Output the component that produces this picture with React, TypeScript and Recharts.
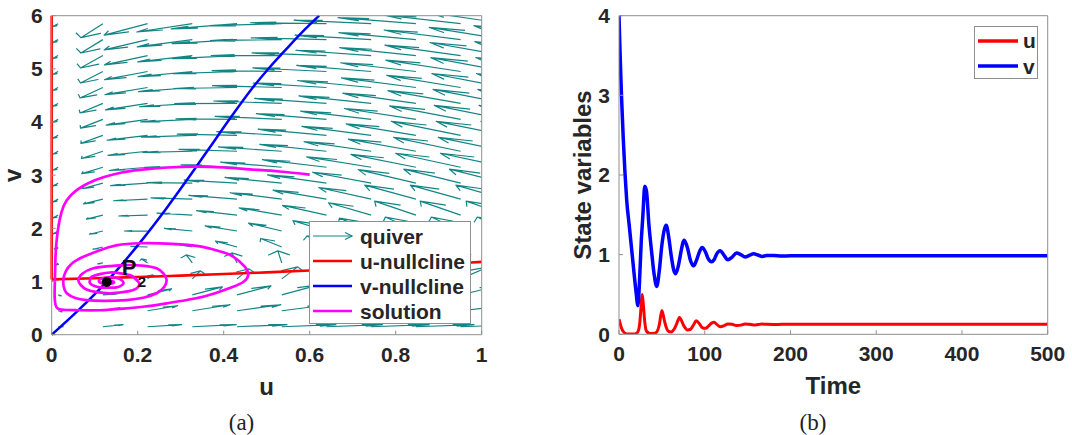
import React from 'react';
import { ComposedChart, LineChart, Line, XAxis, YAxis, Scatter, Legend } from 'recharts';

const FONT = '"Liberation Sans", Arial, Helvetica, sans-serif';
const SERIF = '"Liberation Serif", "DejaVu Serif", serif';
const AXIS_GRAY = '#8f8f8f';
const TEXT = '#262626';
const TEAL = '#148585';
const RED = '#ff0000';
const BLUE = '#0000ff';
const MAGENTA = '#ff00ff';

// ---------- panel (a): phase plane ----------
const uTicks = [0, 0.2, 0.4, 0.6, 0.8, 1];
const vTicks = [0, 1, 2, 3, 4, 5, 6];

// quiver grid (arrow tails); the grid runs a little past u = 1 and is clipped by the axes
const quiverU = [0.015, 0.119, 0.223, 0.327, 0.431, 0.535, 0.639, 0.743, 0.847, 0.951, 1.055, 1.159];
const quiverV = [0.15, 0.45, 0.75, 1.05, 1.35, 1.65, 1.95, 2.25, 2.55, 2.85, 3.15, 3.45, 3.75, 4.05, 4.35, 4.65, 4.95, 5.25, 5.55, 5.85];

// arrow components (data units), one row per v value
const quiverDU = [
  [0.012, 0.047, 0.079, 0.102, 0.116, 0.126, 0.130, 0.135, 0.135, 0.135, 0.135, 0.135],
  [0.009, 0.040, 0.070, 0.088, 0.102, 0.109, 0.114, 0.116, 0.119, 0.121, 0.121, 0.121],
  [0.007, 0.033, 0.056, 0.070, 0.079, 0.086, 0.091, 0.093, 0.095, 0.098, 0.098, 0.098],
  [0, 0.005, 0.012, 0.019, 0.028, 0.037, 0.047, 0.053, 0.060, 0.065, 0.070, 0.074],
  [-0.005, -0.012, -0.014, -0.014, -0.012, -0.009, -0.007, -0.005, -0.002, 0, 0.002, 0.005],
  [-0.008, -0.023, -0.039, -0.046, -0.050, -0.049, -0.045, -0.038, -0.033, -0.028, -0.025, -0.023],
  [-0.013, -0.031, -0.054, -0.065, -0.074, -0.077, -0.078, -0.074, -0.071, -0.068, -0.065, -0.063],
  [-0.013, -0.038, -0.067, -0.082, -0.094, -0.099, -0.102, -0.099, -0.096, -0.094, -0.091, -0.090],
  [-0.013, -0.045, -0.079, -0.096, -0.112, -0.120, -0.124, -0.122, -0.119, -0.117, -0.115, -0.112],
  [-0.013, -0.049, -0.086, -0.106, -0.123, -0.132, -0.137, -0.136, -0.134, -0.132, -0.130, -0.128],
  [-0.013, -0.049, -0.089, -0.111, -0.130, -0.142, -0.149, -0.150, -0.151, -0.151, -0.151, -0.151],
  [-0.013, -0.050, -0.092, -0.115, -0.135, -0.147, -0.155, -0.156, -0.157, -0.156, -0.156, -0.156],
  [-0.013, -0.051, -0.094, -0.118, -0.139, -0.151, -0.159, -0.161, -0.162, -0.161, -0.161, -0.161],
  [-0.013, -0.052, -0.096, -0.120, -0.142, -0.155, -0.163, -0.164, -0.166, -0.165, -0.165, -0.165],
  [-0.013, -0.053, -0.098, -0.123, -0.145, -0.158, -0.167, -0.168, -0.170, -0.169, -0.168, -0.168],
  [-0.013, -0.053, -0.099, -0.125, -0.147, -0.161, -0.170, -0.171, -0.173, -0.172, -0.171, -0.171],
  [-0.013, -0.052, -0.100, -0.126, -0.149, -0.162, -0.171, -0.173, -0.175, -0.174, -0.173, -0.173],
  [-0.013, -0.052, -0.100, -0.127, -0.150, -0.164, -0.173, -0.175, -0.177, -0.176, -0.175, -0.175],
  [-0.013, -0.051, -0.101, -0.128, -0.151, -0.166, -0.175, -0.177, -0.179, -0.178, -0.177, -0.177],
  [-0.013, -0.051, -0.101, -0.129, -0.153, -0.167, -0.177, -0.179, -0.181, -0.180, -0.180, -0.179],
];
const quiverDV = [
  [0, 0.038, 0.038, 0.038, 0.038, 0.038, 0.038, 0.038, 0.038, 0.038, 0.038, 0.038],
  [-0.019, 0.056, 0.094, 0.113, 0.113, 0.113, 0.113, 0.113, 0.113, 0.113, 0.113, 0.113],
  [-0.019, 0.019, 0.113, 0.150, 0.169, 0.188, 0.188, 0.188, 0.188, 0.188, 0.188, 0.188],
  [-0.019, 0, 0.075, 0.150, 0.188, 0.226, 0.226, 0.226, 0.226, 0.226, 0.226, 0.226],
  [-0.038, -0.019, 0.075, 0.150, 0.188, 0.226, 0.226, 0.226, 0.226, 0.226, 0.226, 0.226],
  [-0.040, -0.043, 0.013, 0.062, 0.111, 0.160, 0.209, 0.258, 0.263, 0.258, 0.231, 0.209],
  [-0.056, -0.060, 0, 0.049, 0.098, 0.147, 0.196, 0.243, 0.263, 0.263, 0.263, 0.263],
  [-0.056, -0.075, -0.017, 0.036, 0.085, 0.134, 0.182, 0.231, 0.263, 0.263, 0.263, 0.263],
  [-0.056, -0.090, -0.031, 0.023, 0.071, 0.120, 0.169, 0.218, 0.263, 0.263, 0.263, 0.263],
  [-0.056, -0.105, -0.047, 0.010, 0.059, 0.108, 0.157, 0.206, 0.255, 0.263, 0.263, 0.263],
  [-0.056, -0.120, -0.062, -0.003, 0.046, 0.095, 0.144, 0.193, 0.242, 0.263, 0.263, 0.263],
  [-0.056, -0.135, -0.077, -0.019, 0.034, 0.083, 0.131, 0.180, 0.229, 0.263, 0.263, 0.263],
  [-0.056, -0.150, -0.092, -0.034, 0.021, 0.070, 0.118, 0.168, 0.216, 0.263, 0.263, 0.263],
  [-0.056, -0.165, -0.107, -0.048, 0.009, 0.058, 0.107, 0.156, 0.205, 0.254, 0.263, 0.263],
  [-0.056, -0.180, -0.121, -0.063, -0.004, 0.046, 0.094, 0.143, 0.192, 0.241, 0.263, 0.263],
  [-0.056, -0.197, -0.136, -0.078, -0.019, 0.033, 0.082, 0.131, 0.180, 0.229, 0.263, 0.263],
  [-0.056, -0.216, -0.154, -0.096, -0.038, 0.018, 0.067, 0.116, 0.165, 0.213, 0.262, 0.263],
  [-0.056, -0.233, -0.175, -0.117, -0.056, 0.001, 0.051, 0.100, 0.149, 0.197, 0.246, 0.263],
  [-0.056, -0.252, -0.194, -0.135, -0.077, -0.018, 0.034, 0.083, 0.132, 0.181, 0.229, 0.263],
  [-0.056, -0.263, -0.214, -0.156, -0.098, -0.038, 0.017, 0.066, 0.115, 0.164, 0.213, 0.261],
];

// u-nullcline
const uNullU = [0, 0.1, 0.2, 0.3, 0.4, 0.5, 0.6, 0.7, 0.8, 0.9, 1.0];
const uNullV = [1.04, 1.061, 1.085, 1.112, 1.141, 1.173, 1.207, 1.244, 1.283, 1.325, 1.37];
const uNullAxisV = [1.04, 6];

// v-nullcline
const vNullU = [0, 0.058, 0.128, 0.209, 0.267, 0.326, 0.37, 0.415, 0.461, 0.508, 0.551, 0.59, 0.622];
const vNullV = [0, 0.43, 1.0, 1.77, 2.38, 3.04, 3.55, 4.07, 4.58, 5.04, 5.42, 5.75, 6.0];

// solution trajectory
const solU = [0.6, 0.53, 0.461, 0.4, 0.337, 0.27, 0.205, 0.163, 0.12, 0.085, 0.058, 0.035, 0.023, 0.016, 0.012, 0.009, 0.008, 0.007, 0.007, 0.009, 0.015, 0.035, 0.062, 0.112, 0.167, 0.217, 0.267, 0.333, 0.38, 0.422, 0.447, 0.457, 0.45, 0.422, 0.39, 0.345, 0.28, 0.205, 0.15, 0.112, 0.075, 0.047, 0.032, 0.027, 0.028, 0.035, 0.055, 0.081, 0.12, 0.174, 0.215, 0.244, 0.262, 0.267, 0.26, 0.244, 0.21, 0.174, 0.135, 0.097, 0.072, 0.062, 0.068, 0.081, 0.105, 0.136, 0.165, 0.19, 0.203, 0.201, 0.192, 0.182, 0.16, 0.136, 0.112, 0.093, 0.089, 0.089, 0.098, 0.112, 0.132, 0.151, 0.163, 0.167, 0.162, 0.155, 0.142, 0.128, 0.115, 0.11, 0.112, 0.12, 0.132, 0.142, 0.145, 0.14, 0.13, 0.12, 0.122, 0.128, 0.133, 0.128];
const solV = [3.01, 3.07, 3.11, 3.145, 3.16, 3.145, 3.1, 3.05, 2.96, 2.85, 2.72, 2.53, 2.31, 2.05, 1.81, 1.5, 1.18, 0.9, 0.68, 0.56, 0.49, 0.465, 0.46, 0.46, 0.49, 0.53, 0.59, 0.68, 0.78, 0.9, 1.0, 1.12, 1.27, 1.47, 1.57, 1.66, 1.71, 1.72, 1.68, 1.59, 1.47, 1.34, 1.18, 1.03, 0.9, 0.78, 0.69, 0.65, 0.635, 0.65, 0.7, 0.78, 0.9, 1.04, 1.15, 1.25, 1.3, 1.31, 1.29, 1.25, 1.15, 1.03, 0.93, 0.85, 0.8, 0.78, 0.8, 0.84, 0.92, 1.0, 1.07, 1.12, 1.155, 1.17, 1.14, 1.09, 1.03, 0.97, 0.92, 0.89, 0.885, 0.89, 0.93, 0.98, 1.03, 1.06, 1.08, 1.08, 1.05, 1.02, 0.985, 0.96, 0.955, 0.97, 0.99, 1.01, 1.02, 1.005, 0.985, 0.98, 0.99, 0.995];

// equilibrium P2
const p2U = [0.128];
const p2V = [0.99];

// ---------- panel (b): time series ----------
const timeTicks = [0, 100, 200, 300, 400, 500];
const stateTicks = [0, 1, 2, 3, 4];
const timeT = [0, 1, 2, 3, 5, 7, 9, 12, 15, 18, 20, 22, 24, 26, 27, 28, 30, 32, 35, 38, 41, 44, 47, 50, 53, 55, 58, 61, 64, 66, 69, 70.5, 72, 76, 80, 83, 87, 90, 94, 97, 101, 104, 108, 111, 114, 118, 122, 127, 132, 137, 142, 147, 152, 157, 162, 167, 172, 180, 190, 200, 250, 300, 350, 400, 450, 500];
const timeV = [4.0, 3.62, 3.28, 2.97, 2.45, 2.02, 1.68, 1.36, 1.04, 0.72, 0.52, 0.36, 0.68, 1.18, 1.35, 1.52, 1.86, 1.8, 1.36, 1.04, 0.75, 0.6, 0.8, 1.12, 1.32, 1.37, 1.22, 0.98, 0.8, 0.76, 0.85, 0.93, 1.02, 1.18, 1.08, 0.94, 0.86, 0.92, 1.04, 1.09, 1.03, 0.95, 0.91, 0.94, 1.01, 1.05, 1.0, 0.935, 0.97, 1.02, 1.0, 0.97, 0.99, 1.01, 0.995, 0.978, 0.988, 0.99, 0.983, 0.985, 0.985, 0.985, 0.985, 0.985, 0.985, 0.985];
const timeU = [0.19, 0.15, 0.11, 0.075, 0.035, 0.012, 0.005, 0.003, 0.003, 0.005, 0.01, 0.03, 0.12, 0.38, 0.5, 0.42, 0.16, 0.04, 0.015, 0.01, 0.012, 0.03, 0.12, 0.3, 0.17, 0.09, 0.035, 0.03, 0.06, 0.1, 0.18, 0.21, 0.19, 0.1, 0.055, 0.06, 0.12, 0.17, 0.13, 0.085, 0.075, 0.1, 0.14, 0.15, 0.125, 0.095, 0.105, 0.13, 0.125, 0.11, 0.115, 0.13, 0.125, 0.118, 0.122, 0.128, 0.125, 0.123, 0.125, 0.125, 0.125, 0.125, 0.125, 0.125, 0.125, 0.125];

const leftLegendNames = ['quiver', 'u-nullcline', 'v-nullcline', 'solution'];
const leftLegendColors = [TEAL, RED, BLUE, MAGENTA];
const rightLegendNames = ['u', 'v'];
const rightLegendColors = [RED, BLUE];

// ---------- derived tables for the library ----------
type Pt = { u: number; v: number | null };
const HEAD_A = 0.33;
const HEAD_B = 0.33;
const quiverData: Pt[] = [];
quiverV.forEach((v0, j) => {
  quiverU.forEach((u0, k) => {
    const du = quiverDU[j][k];
    const dv = quiverDV[j][k];
    const tu = u0 + du;
    const tv = v0 + dv;
    quiverData.push(
      { u: u0, v: v0 },
      { u: tu, v: tv },
      { u: tu - HEAD_A * (du + HEAD_B * dv), v: tv - HEAD_A * (dv - HEAD_B * du) },
      { u: tu, v: tv },
      { u: tu - HEAD_A * (du - HEAD_B * dv), v: tv - HEAD_A * (dv + HEAD_B * du) },
      { u: tu, v: null },
    );
  });
});
const uNullData = uNullU.map((u, i) => ({ u, v: uNullV[i] }));
const uNullAxisData = uNullAxisV.map((v) => ({ u: 0, v }));
const vNullData = vNullU.map((u, i) => ({ u, v: vNullV[i] }));
const solData = solU.map((u, i) => ({ u, v: solV[i] }));
const p2Data = p2U.map((u, i) => ({ u, v: p2V[i] }));
const timeData = timeT.map((t, i) => ({ t, u: timeU[i], v: timeV[i] }));

const tickStyle = { fill: TEXT, fontSize: 21, fontWeight: 700, fontFamily: FONT };
const labelStyle = { fill: TEXT, fontSize: 24, fontWeight: 700, fontFamily: FONT };

const P2Shape = (props: any) => {
  const { cx, cy } = props;
  return (
    <g>
      <circle cx={cx} cy={cy} r={5} fill="#000" />
      <text x={cx + 15} y={cy - 7} fontFamily={FONT} fontWeight={700} fontSize={22} fill="#111">P</text>
      <text x={cx + 31} y={cy + 5} fontFamily={FONT} fontWeight={700} fontSize={15} fill="#111">2</text>
    </g>
  );
};

const LeftLegend = () => (
  <div style={{ position: 'relative', width: 160, height: 101, border: `1px solid ${AXIS_GRAY}`, background: '#fff' }}>
    {leftLegendNames.map((name, i) => (
      <div key={name} style={{ position: 'absolute', left: 0, top: 1.5 + i * 25, height: 25, width: 160, display: 'flex', alignItems: 'center' }}>
        <svg width={44} height={12} style={{ marginLeft: 2, flex: 'none' }}>
          {i === 0 ? (
            <g stroke={leftLegendColors[i]} strokeWidth={1.2} fill="none">
              <line x1={1} y1={6} x2={40} y2={6} />
              <polyline points="33,2.5 40,6 33,9.5" />
            </g>
          ) : (
            <line x1={1} y1={6} x2={40} y2={6} stroke={leftLegendColors[i]} strokeWidth={2.6} />
          )}
        </svg>
        <span style={{ marginLeft: 4, fontFamily: FONT, fontWeight: 700, fontSize: 21, color: TEXT, lineHeight: '25px', whiteSpace: 'nowrap' }}>{name}</span>
      </div>
    ))}
  </div>
);

const RightLegend = () => (
  <div style={{ position: 'relative', width: 62, height: 51, border: `1px solid ${AXIS_GRAY}`, background: '#fff' }}>
    {rightLegendNames.map((name, i) => (
      <div key={name} style={{ position: 'absolute', left: 0, top: 1 + i * 25.5, height: 25, width: 62, display: 'flex', alignItems: 'center' }}>
        <svg width={44} height={12} style={{ marginLeft: 2, flex: 'none' }}>
          <line x1={1} y1={6} x2={41} y2={6} stroke={rightLegendColors[i]} strokeWidth={3.5} />
        </svg>
        <span style={{ marginLeft: 2, fontFamily: FONT, fontWeight: 700, fontSize: 21, color: TEXT, lineHeight: '25px' }}>{name}</span>
      </div>
    ))}
  </div>
);

function PhasePlane() {
  return (
    <ComposedChart width={536} height={435} margin={{ top: 10.7, right: 49.3, bottom: 40.3, left: 11.7 }}>
      <XAxis xAxisId="q" type="number" dataKey="u" domain={[0, 1]} allowDataOverflow ticks={uTicks} interval={0}
        tickSize={-4} tickMargin={16} height={60} stroke={AXIS_GRAY} tick={tickStyle}
        label={{ value: 'u', position: 'insideBottom', offset: 0, style: labelStyle }} />
      <XAxis xAxisId="top" orientation="top" type="number" domain={[0, 1]} allowDataOverflow ticks={uTicks} interval={0}
        tickSize={-4} tick={false} height={5} stroke={AXIS_GRAY} />
      <XAxis xAxisId="n" type="number" dataKey="u" domain={[0, 1]} hide height={0} />
      <YAxis yAxisId="q" type="number" dataKey="v" domain={[0, 6]} allowDataOverflow ticks={vTicks} interval={0}
        tickSize={-4} tickMargin={13} width={40} stroke={AXIS_GRAY} tick={tickStyle}
        label={{ value: 'v', angle: -90, position: 'insideLeft', offset: 0.3, style: { ...labelStyle, textAnchor: 'middle' } }} />
      <YAxis yAxisId="right" orientation="right" type="number" domain={[0, 6]} allowDataOverflow ticks={vTicks} interval={0}
        tickSize={-4} tick={false} width={5} stroke={AXIS_GRAY} />
      <YAxis yAxisId="n" type="number" dataKey="v" domain={[0, 6]} hide width={0} />
      <Line xAxisId="q" yAxisId="q" data={quiverData} dataKey="v" name="quiver" stroke={TEAL} strokeWidth={1.2}
        strokeLinejoin="round" dot={false} activeDot={false} type="linear" isAnimationActive={false} />
      <Line xAxisId="n" yAxisId="n" data={uNullAxisData} dataKey="v" name="u-nullcline axis" legendType="none" stroke={RED}
        strokeWidth={2.6} dot={false} activeDot={false} type="linear" isAnimationActive={false} />
      <Line xAxisId="n" yAxisId="n" data={uNullData} dataKey="v" name="u-nullcline" stroke={RED}
        strokeWidth={2.6} dot={false} activeDot={false} type="monotone" isAnimationActive={false} />
      <Line xAxisId="n" yAxisId="n" data={vNullData} dataKey="v" name="v-nullcline" stroke={BLUE}
        strokeWidth={2.5} dot={false} activeDot={false} type="monotone" isAnimationActive={false} />
      <Line xAxisId="n" yAxisId="n" data={solData} dataKey="v" name="solution" stroke={MAGENTA}
        strokeWidth={2.7} dot={false} activeDot={false} type="natural" isAnimationActive={false} />
      <Scatter xAxisId="n" yAxisId="n" data={p2Data} dataKey="v" name="P2" legendType="none" shape={P2Shape} isAnimationActive={false} />
      <Legend content={LeftLegend} layout="horizontal" verticalAlign="middle" align="center"
        wrapperStyle={{ left: 309, top: 221, width: 162, height: 103 }} />
    </ComposedChart>
  );
}

function TimeSeries() {
  return (
    <LineChart width={536} height={435} data={timeData} margin={{ top: 10.7, right: 19.3, bottom: 40.7, left: 43 }}>
      <XAxis type="number" dataKey="t" domain={[0, 500]} allowDataOverflow ticks={timeTicks} interval={0}
        tickSize={-4} tickMargin={16} height={60} stroke={AXIS_GRAY} tick={tickStyle}
        label={{ value: 'Time', position: 'insideBottom', offset: 0, style: labelStyle }} />
      <XAxis xAxisId="top" orientation="top" type="number" domain={[0, 500]} allowDataOverflow ticks={timeTicks} interval={0}
        tickSize={-4} tick={false} height={5} stroke={AXIS_GRAY} />
      <YAxis type="number" domain={[0, 4]} allowDataOverflow ticks={stateTicks} interval={0}
        tickSize={-4} tickMargin={13} width={40} stroke={AXIS_GRAY} tick={tickStyle}
        label={{ value: 'State variables', angle: -90, position: 'insideLeft', offset: 3.5, style: { ...labelStyle, textAnchor: 'middle' } }} />
      <YAxis yAxisId="right" orientation="right" type="number" domain={[0, 4]} allowDataOverflow ticks={stateTicks} interval={0}
        tickSize={-4} tick={false} width={5} stroke={AXIS_GRAY} />
      <Line dataKey="u" name="u" stroke={RED} strokeWidth={3} dot={false} activeDot={false} type="monotone" isAnimationActive={false} />
      <Line dataKey="v" name="v" stroke={BLUE} strokeWidth={3.5} dot={false} activeDot={false} type="monotone" isAnimationActive={false} />
      <Legend content={RightLegend} layout="horizontal" verticalAlign="middle" align="center"
        wrapperStyle={{ left: 438, top: 26, width: 64, height: 53 }} />
    </LineChart>
  );
}

export default function App() {
  const caption = { position: 'absolute' as const, top: 410, width: 60, height: 26, lineHeight: '26px', textAlign: 'center' as const, fontFamily: SERIF, fontSize: 23, color: '#222' };
  return (
    <div style={{ position: 'absolute', left: 0, top: 0, width: 1072, height: 435, background: '#fff', overflow: 'hidden' }}>
      <div style={{ position: 'absolute', left: 0, top: 0 }}>
        <PhasePlane />
      </div>
      <div style={{ position: 'absolute', left: 536, top: 0 }}>
        <TimeSeries />
      </div>
      <div style={{ ...caption, left: 211.5 }}>(a)</div>
      <div style={{ ...caption, left: 783 }}>(b)</div>
    </div>
  );
}
